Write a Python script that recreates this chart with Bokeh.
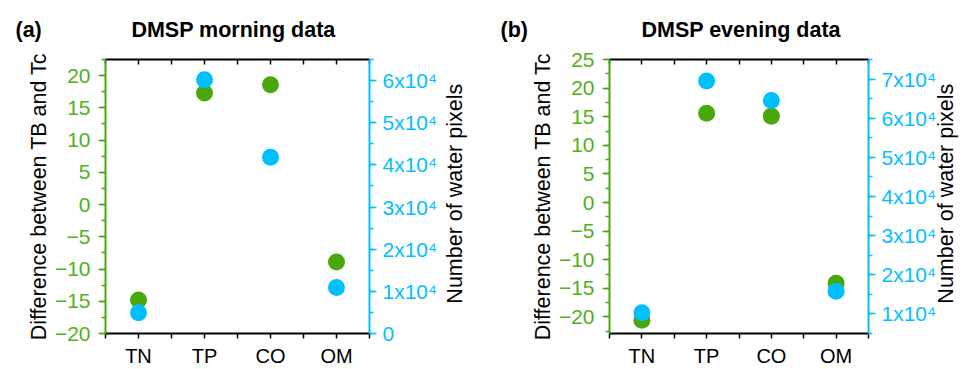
import math
from bokeh.plotting import figure
from bokeh.models import Range1d, LinearAxis, FixedTicker, SingleIntervalTicker
from bokeh.layouts import row
from bokeh.embed import file_html
from bokeh.resources import INLINE

# ---------------- data ----------------
categories = ["TN", "TP", "CO", "OM"]
morning_diff = [-14.8, 17.3, 18.6, -8.9]
morning_pixels = [4900, 60200, 41800, 10900]
evening_diff = [-20.6, 15.6, 15.1, -14.1]
evening_pixels = [10300, 69500, 64500, 15800]

diff_ticks_a = [-20, -15, -10, -5, 0, 5, 10, 15, 20]
diff_ticks_b = [-20, -15, -10, -5, 0, 5, 10, 15, 20, 25]
pixel_ticks_a = [0, 10000, 20000, 30000, 40000, 50000, 60000]
pixel_ticks_b = [10000, 20000, 30000, 40000, 50000, 60000, 70000]

GREEN = "#4aa70c"
GREEN_TXT = "#52b01a"
BLUE = "#00bfff"
FONT = "Liberation Sans"
NBSP = "\u00a0"


def diff_label(v):
    return ("\u2212" + str(abs(v))) if v < 0 else str(v)


def pix_label(v):
    k = int(round(v / 10000))
    return "0" if k == 0 else f"{k}x10\u2074"


def make_panel(tag, title, gap, diff, pix, yr, nr, dticks, pticks, width, left, right,
               tag_x, rlabel_standoff, rlabel_lh):
    xs = list(range(1, len(categories) + 1))
    p = figure(width=width, height=369, output_backend="svg", toolbar_location=None,
               x_range=Range1d(0.5, len(categories) + 0.5), y_range=Range1d(*yr),
               min_border_left=left, min_border_right=right,
               min_border_top=59, min_border_bottom=34)
    p.extra_y_ranges = {"n": Range1d(*nr)}
    p.xgrid.visible = False
    p.ygrid.visible = False
    p.outline_line_color = None
    p.background_fill_color = "white"
    p.border_fill_color = "white"

    # panel tag + title on one line
    p.title.text = tag + NBSP * gap + title
    p.title.align = "left"
    p.title.offset = -(left - tag_x)
    p.title.text_font = FONT
    p.title.text_font_size = "21.5px"
    p.title.text_font_style = "bold"
    p.title.text_color = "black"

    major = xs
    minor = [x - 0.5 for x in xs] + [xs[-1] + 0.5]

    # bottom axis
    xa = p.xaxis[0]
    xa.ticker = FixedTicker(ticks=major, minor_ticks=minor)
    xa.major_label_overrides = {x: c for x, c in zip(xs, categories)}
    xa.axis_line_color = "black"
    xa.axis_line_width = 2
    xa.major_tick_line_color = "black"
    xa.minor_tick_line_color = "black"
    xa.major_tick_line_width = 1.5
    xa.minor_tick_line_width = 1.5
    xa.major_tick_out = 5
    xa.major_tick_in = 0
    xa.minor_tick_out = 5
    xa.minor_tick_in = 0
    xa.major_label_text_font = FONT
    xa.major_label_text_font_size = "20px"
    xa.major_label_text_color = "black"
    xa.major_label_standoff = 6

    # top axis (ticks only); a blank axis label spaces the title upward
    ta = LinearAxis(ticker=FixedTicker(ticks=major, minor_ticks=minor))
    ta.axis_line_color = "black"
    ta.axis_line_width = 2
    ta.major_tick_line_color = "black"
    ta.minor_tick_line_color = "black"
    ta.major_tick_line_width = 1.5
    ta.minor_tick_line_width = 1.5
    ta.major_tick_in = 5
    ta.major_tick_out = 0
    ta.minor_tick_in = 5
    ta.minor_tick_out = 0
    ta.major_label_text_font_size = "0px"
    ta.major_label_standoff = 0
    ta.major_label_overrides = {x: "" for x in xs}
    ta.axis_label = NBSP
    ta.axis_label_text_font_size = "8px"
    ta.axis_label_standoff = 1
    p.add_layout(ta, "above")

    # left axis
    ya = p.yaxis[0]
    ya.ticker = SingleIntervalTicker(interval=5, num_minor_ticks=2)
    ya.major_label_overrides = {v: diff_label(v) for v in dticks}
    ya.axis_line_color = GREEN
    ya.axis_line_width = 2
    ya.major_tick_line_color = GREEN
    ya.minor_tick_line_color = GREEN
    ya.major_tick_line_width = 1.5
    ya.minor_tick_line_width = 1.5
    ya.major_tick_out = 7
    ya.major_tick_in = 0
    ya.minor_tick_out = 4
    ya.minor_tick_in = 0
    ya.major_label_text_font = FONT
    ya.major_label_text_font_size = "21px"
    ya.major_label_text_color = GREEN_TXT
    ya.major_label_standoff = 8
    ya.axis_label = "Difference between TB and Tc"
    ya.axis_label_text_font = FONT
    ya.axis_label_text_font_size = "21.5px"
    ya.axis_label_text_font_style = "normal"
    ya.axis_label_text_color = "black"
    ya.axis_label_standoff = 1

    # right axis
    ra = LinearAxis(y_range_name="n", ticker=SingleIntervalTicker(interval=10000, num_minor_ticks=2))
    ra.major_label_overrides = {v: pix_label(v) for v in pticks}
    ra.axis_line_color = BLUE
    ra.axis_line_width = 2
    ra.major_tick_line_color = BLUE
    ra.minor_tick_line_color = BLUE
    ra.major_tick_line_width = 1.5
    ra.minor_tick_line_width = 1.5
    ra.major_tick_out = 7
    ra.major_tick_in = 0
    ra.minor_tick_out = 4
    ra.minor_tick_in = 0
    ra.major_label_text_font = FONT
    ra.major_label_text_font_size = "21px"
    ra.major_label_text_color = BLUE
    ra.major_label_standoff = 6
    label_text = "Number of water pixels"
    try:
        ra.axis_label_align = "start"
        ra.axis_label_orientation = math.pi / 2
        ra.axis_label = NBSP * 5 + label_text
    except Exception:
        ra.axis_label = label_text
    ra.axis_label_text_font = FONT
    ra.axis_label_text_font_size = "21.5px"
    ra.axis_label_text_font_style = "normal"
    ra.axis_label_text_color = "black"
    ra.axis_label_text_line_height = rlabel_lh
    ra.axis_label_standoff = rlabel_standoff
    p.add_layout(ra, "right")

    # data
    p.scatter(xs, diff, size=17, color=GREEN, line_color=None)
    p.scatter(xs, pix, y_range_name="n", size=17, color=BLUE, line_color=None)
    return p


pa = make_panel("(a)", "DMSP morning data", 15, morning_diff, morning_pixels,
                (-20, 22.5), (0, 65000), diff_ticks_a, pixel_ticks_a, 486, 105, 117, 15, 15, 1.2)
pb = make_panel("(b)", "DMSP evening data", 19, evening_diff, evening_pixels,
                (-22.9, 25), (5000, 75000), diff_ticks_b, pixel_ticks_b, 487, 123, 100, 14, 7, 0.8)

layout = row(pa, pb)
open("out.html", "w").write(file_html(layout, INLINE))
